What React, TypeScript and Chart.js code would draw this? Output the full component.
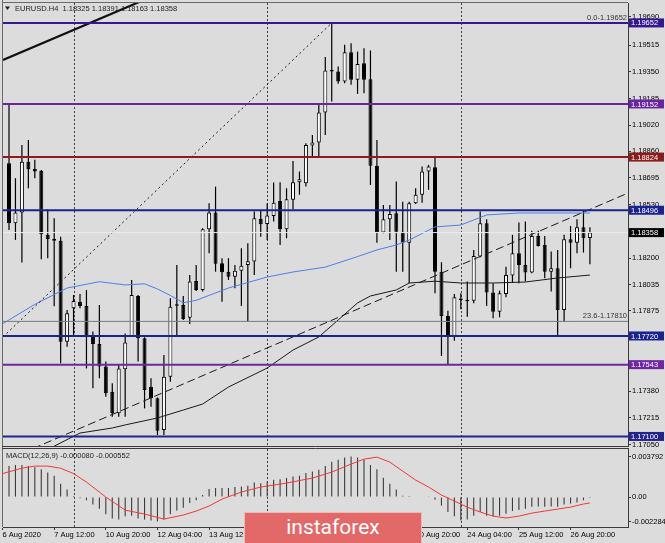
import React, { useEffect, useRef } from 'react';
import { Chart, registerables } from 'chart.js';

Chart.register(...registerables);

const FONT = "'Liberation Sans', Arial, sans-serif";
const symbolName = 'EURUSD.H4';

// ---- H4 candles, index 0 = 6 Aug 08:00 ----
const opens = [
  1.18786, 1.18416, 1.18482, 1.18796, 1.18751, 1.18739, 1.18344, 1.18319, 1.18307, 1.17685,
  1.17891, 1.17932, 1.17905, 1.17720, 1.17671, 1.17531, 1.17376, 1.17243, 1.17514, 1.17720,
  1.17967, 1.17706, 1.17407, 1.17335, 1.17140, 1.17469, 1.17906, 1.17911, 1.17833, 1.18060,
  1.18004, 1.18379, 1.18482, 1.18169, 1.18117, 1.18086, 1.18123, 1.18158, 1.18179, 1.18442,
  1.18411, 1.18461, 1.18553, 1.18379, 1.18560, 1.18669, 1.18663, 1.18895, 1.18914, 1.19099,
  1.19352, 1.19352, 1.19290, 1.19471, 1.19301, 1.19403, 1.19305, 1.18770, 1.18358, 1.18440,
  1.18477, 1.18364, 1.18296, 1.18539, 1.18591, 1.18735, 1.18762, 1.18117, 1.17843, 1.17720,
  1.17946, 1.17942, 1.17938, 1.18210, 1.18416, 1.17988, 1.17870, 1.17979, 1.18093, 1.18230,
  1.18158, 1.18111, 1.18337, 1.18282, 1.18117, 1.18138, 1.17881, 1.18317, 1.18296, 1.18391,
  1.18325,
];
const highs = [
  1.19146, 1.18694, 1.18899, 1.18930, 1.18807, 1.18745, 1.18502, 1.18446, 1.18333, 1.17880,
  1.17973, 1.17979, 1.18004, 1.17747, 1.17911, 1.17562, 1.17428, 1.17541, 1.17736, 1.18066,
  1.17973, 1.17712, 1.17459, 1.17341, 1.17603, 1.17953, 1.18158, 1.17967, 1.18097, 1.18158,
  1.18385, 1.18539, 1.18642, 1.18200, 1.18200, 1.18158, 1.18261, 1.18292, 1.18488, 1.18498,
  1.18539, 1.18667, 1.18669, 1.18632, 1.18800, 1.18735, 1.18910, 1.18961, 1.19146, 1.19441,
  1.19652, 1.19383, 1.19517, 1.19527, 1.19475, 1.19496, 1.19482, 1.18930, 1.18529, 1.18529,
  1.18673, 1.18549, 1.18549, 1.18632, 1.18766, 1.18776, 1.18827, 1.18175, 1.17876, 1.17979,
  1.17983, 1.18056, 1.18251, 1.18488, 1.18440, 1.18045, 1.18000, 1.18148, 1.18344, 1.18420,
  1.18426, 1.18370, 1.18370, 1.18337, 1.18241, 1.18251, 1.18344, 1.18399, 1.18440, 1.18494,
  1.18391,
];
const lows = [
  1.18374, 1.18313, 1.18173, 1.18632, 1.18694, 1.18193, 1.18200, 1.17904, 1.17551, 1.17654,
  1.17716, 1.17891, 1.17520, 1.17397, 1.17459, 1.17345, 1.17222, 1.17222, 1.17222, 1.17716,
  1.17562, 1.17273, 1.17284, 1.17109, 1.17109, 1.17438, 1.17726, 1.17819, 1.17794, 1.17998,
  1.17994, 1.18230, 1.18117, 1.17932, 1.18066, 1.18014, 1.17905, 1.17810, 1.18097, 1.18333,
  1.18313, 1.18426, 1.18282, 1.18323, 1.18502, 1.18591, 1.18642, 1.18823, 1.18823, 1.18961,
  1.19167, 1.19276, 1.19280, 1.19270, 1.19214, 1.19218, 1.18652, 1.18296, 1.18354, 1.18313,
  1.18117, 1.18117, 1.18045, 1.18535, 1.18543, 1.18622, 1.17983, 1.17597, 1.17541, 1.17691,
  1.17885, 1.17839, 1.17922, 1.18206, 1.17905, 1.17829, 1.17835, 1.17959, 1.18049, 1.18045,
  1.18056, 1.18107, 1.18272, 1.18076, 1.17994, 1.17720, 1.17808, 1.18138, 1.18230, 1.18235,
  1.18163,
];
const closes = [
  1.18416, 1.18482, 1.18796, 1.18749, 1.18735, 1.18348, 1.18317, 1.18307, 1.17685, 1.17860,
  1.17936, 1.17905, 1.17720, 1.17671, 1.17531, 1.17366, 1.17243, 1.17520, 1.17679, 1.17973,
  1.17706, 1.17387, 1.17335, 1.17135, 1.17469, 1.17901, 1.17912, 1.17825, 1.18056, 1.18004,
  1.18379, 1.18482, 1.18165, 1.18113, 1.18086, 1.18123, 1.18154, 1.18181, 1.18446, 1.18409,
  1.18463, 1.18543, 1.18379, 1.18564, 1.18669, 1.18687, 1.18899, 1.18914, 1.19099, 1.19358,
  1.19356, 1.19290, 1.19471, 1.19301, 1.19399, 1.19301, 1.18770, 1.18358, 1.18440, 1.18473,
  1.18364, 1.18296, 1.18539, 1.18591, 1.18735, 1.18766, 1.18117, 1.17843, 1.17720, 1.17959,
  1.17942, 1.17934, 1.18214, 1.18416, 1.17988, 1.17870, 1.17983, 1.18097, 1.18230, 1.18158,
  1.18111, 1.18337, 1.18276, 1.18117, 1.18138, 1.17881, 1.18317, 1.18296, 1.18391, 1.18323,
  1.18358,
];

// ---- time axis ----
const xMin = -0.93;
const xMax = 95.9;
const timeTickIndex = [-1, 7, 15, 23, 31, 39, 47, 55, 63, 71, 79, 87];
const timeTickLabels = [
  '6 Aug 2020', '7 Aug 12:00', '10 Aug 20:00', '12 Aug 04:00', '13 Aug 12:00', '14 Aug 20:00',
  '18 Aug 04:00', '19 Aug 12:00', '20 Aug 20:00', '24 Aug 04:00', '25 Aug 12:00', '26 Aug 20:00',
];
const weekSeparators = [10, 40, 70];

// ---- price axis ----
const priceMin = 1.17041;
const priceMax = 1.19775;
const priceTicks = [
  1.1969, 1.19515, 1.1935, 1.19185, 1.1902, 1.1886, 1.18695, 1.1853, 1.18365, 1.182,
  1.18035, 1.17875, 1.1771, 1.17545, 1.1738, 1.17215, 1.1705,
];

// ---- horizontal levels ----
const levelPrices = [1.19652, 1.19152, 1.18824, 1.18496, 1.1772, 1.17543, 1.171];
const levelColors = ['#35198c', '#6a24a0', '#8c1c1c', '#1a238f', '#1a238f', '#6f26a2', '#22238f'];
const currentPrice = 1.18358;
const fibPrices = [1.19652, 1.1781];
const fibLabels = ['0.0-1.19652', '23.6-1.17810'];

// ---- moving averages ----
const blueMaIdx = [-1, 4, 9, 14, 16, 18, 21, 23, 25, 27, 29, 34, 40, 44, 49, 54, 57, 60, 62, 66, 70, 74, 79, 84, 90];
const blueMaVal = [
  1.17795, 1.17915, 1.18016, 1.18055, 1.18045, 1.18035, 1.18042, 1.18010, 1.17970, 1.17925,
  1.1794, 1.18016, 1.18084, 1.18115, 1.18145, 1.1821, 1.18251, 1.18282, 1.18312, 1.18393,
  1.18405, 1.18467, 1.18479, 1.18479, 1.18479,
];
const blackMaIdx = [0, 7, 11, 16, 18, 23, 27, 30, 34, 40, 44, 48, 51, 54, 56, 60, 62, 66, 70, 75, 80, 85, 90];
const blackMaVal = [
  1.1690, 1.1704, 1.17121, 1.17152, 1.17171, 1.17214, 1.17263, 1.173, 1.17405, 1.17522,
  1.17633, 1.17714, 1.17819, 1.17924, 1.17967, 1.18004, 1.18047, 1.18058, 1.18047, 1.18047,
  1.18053, 1.18078, 1.18096,
];

// ---- drawn objects ----
const trendDashIdx = [2, 95.9];
const trendDashVal = [1.16996, 1.18602];
const trendThickIdx = [-0.93, 30];
const trendThickVal = [1.19423, 1.19948];
const fibLineIdx = [-0.93, 50];
const fibLineVal = [1.17714, 1.19652];

// ---- MACD(12,26,9) ----
const macdHist = [
  0.0029, 0.003, 0.003, 0.0029, 0.0028, 0.0026, 0.0023, 0.002, 0.00125, 0.0007,
  0.0001, -0.0001, -0.0003, -0.0007, -0.0011, -0.0016, -0.002, -0.0021, -0.0018, -0.00175,
  -0.002, -0.0021, -0.0022, -0.00228, -0.0021, -0.0016, -0.00125, -0.001, -0.00056, -0.0003,
  0.0002, 0.00075, 0.00085, 0.00085, 0.00085, 0.00094, 0.001, 0.00106, 0.00137, 0.0013,
  0.00147, 0.00162, 0.00168, 0.00178, 0.00193, 0.002, 0.00225, 0.0024, 0.00256, 0.0029,
  0.0033, 0.0035, 0.0037, 0.00379, 0.0037, 0.0035, 0.003, 0.0026, 0.0018, 0.00125,
  0.0007, 0.00012, 0.0001, 0.00006, 0.00005, 0.00003, -0.00025, -0.0008, -0.0014, -0.0018,
  -0.0022, -0.0021, -0.00175, -0.0014, -0.00175, -0.0018, -0.00175, -0.00156, -0.0013, -0.0012,
  -0.0011, -0.0009, -0.00088, -0.0009, -0.00088, -0.0009, -0.0007, -0.0006, -0.0005, -0.0003,
  -0.00008,
];
const macdSignalIdx = [-1, 2, 4, 6, 8, 10, 12, 13, 15, 18, 21, 24, 27, 29, 31, 33, 36, 39, 43, 47, 50, 53, 55, 57, 59, 61, 63, 65, 67, 69, 71, 73, 75, 77, 79, 81, 83, 85, 87, 89, 90];
const macdSignalVal = [
  0.0022, 0.0027, 0.0029, 0.0029, 0.0027, 0.0022, 0.0014, 0.00094, 0, -0.00122,
  -0.00159, -0.00206, -0.00168, -0.00131, -0.00084, -0.00019, 0.00047, 0.00094, 0.00131, 0.00178,
  0.00234, 0.00309, 0.00355, 0.00374, 0.00327, 0.00243, 0.00159, 0.00094, 0.00019, -0.00037,
  -0.00094, -0.0014, -0.00178, -0.00196, -0.00178, -0.0015, -0.00131, -0.00112, -0.00094, -0.00065,
  -0.000552,
];
const macdMin = -0.0028;
const macdMax = 0.0045;
const macdTicks = [-0.002284, 0, 0.003792];
const macdTickLabels = ['-0.002284', '0.00', '0.003792'];

const BG = '#dcdcdc';
const AXIS = '#3a3a3a';

function lineSet(xs: number[], ys: number[], color: string, width: number, dash: number[], order: number) {
  return {
    type: 'line',
    data: xs.map((x, k) => ({ x, y: ys[k] })),
    borderColor: color,
    borderWidth: width,
    borderDash: dash,
    pointRadius: 0,
    fill: false,
    tension: 0,
    order,
  };
}

function drawSeparators(chart: any) {
  const { ctx, chartArea, scales } = chart;
  ctx.save();
  ctx.strokeStyle = '#404040';
  ctx.lineWidth = 1;
  ctx.setLineDash([2, 2]);
  for (const v of weekSeparators) {
    const px = Math.round(scales.x.getPixelForValue(v)) + 0.5;
    ctx.beginPath();
    ctx.moveTo(px, chartArea.top);
    ctx.lineTo(px, chartArea.bottom);
    ctx.stroke();
  }
  ctx.restore();
}

const mainOverlay = {
  id: 'mainOverlay',
  beforeDraw(chart: any) {
    const { ctx, width, height } = chart;
    ctx.save();
    ctx.fillStyle = BG;
    ctx.fillRect(0, 0, width, height);
    ctx.restore();
  },
  beforeDatasetsDraw(chart: any) {
    drawSeparators(chart);
  },
  afterDraw(chart: any) {
    const { ctx, chartArea, scales } = chart;
    const ys = scales.y;
    ctx.save();
    ctx.strokeStyle = '#6a6a6a';
    ctx.lineWidth = 1;
    ctx.beginPath();
    ctx.moveTo(2.5, 0);
    ctx.lineTo(2.5, chart.height);
    ctx.moveTo(2, 2.5);
    ctx.lineTo(chartArea.right, 2.5);
    ctx.stroke();
    ctx.strokeStyle = AXIS;
    ctx.beginPath();
    ctx.moveTo(2, chartArea.bottom + 0.5);
    ctx.lineTo(chartArea.right + 1, chartArea.bottom + 0.5);
    ctx.stroke();

    ctx.font = `7.5px ${FONT}`;
    ctx.fillStyle = '#333333';
    ctx.textAlign = 'right';
    ctx.textBaseline = 'middle';
    fibPrices.forEach((p, k) => {
      const py = ys.getPixelForValue(p);
      ctx.fillText(fibLabels[k], chartArea.right - 1, py - 5);
    });
    ctx.textAlign = 'left';
    const boxX = chartArea.right + 1;
    const drawBox = (p: number, color: string) => {
      const py = ys.getPixelForValue(p);
      ctx.fillStyle = color;
      ctx.fillRect(boxX, py - 4.5, 35, 9);
      ctx.fillStyle = '#ffffff';
      ctx.fillText(p.toFixed(5), boxX + 2, py + 0.5);
    };
    levelPrices.forEach((p, k) => drawBox(p, levelColors[k]));
    drawBox(currentPrice, '#000000');

    const n = opens.length - 1;
    ctx.fillStyle = '#1a1a1a';
    ctx.beginPath();
    ctx.moveTo(5, 6.5);
    ctx.lineTo(10, 6.5);
    ctx.lineTo(7.5, 10);
    ctx.closePath();
    ctx.fill();
    ctx.fillStyle = '#1e1e1e';
    ctx.fillText(
      `${symbolName}  ${opens[n].toFixed(5)} ${highs[n].toFixed(5)} ${lows[n].toFixed(5)} ${closes[n].toFixed(5)}`,
      15,
      8.5,
    );
    ctx.restore();
  },
};

const macdOverlay = {
  id: 'macdOverlay',
  beforeDraw(chart: any) {
    const { ctx, width, height } = chart;
    ctx.save();
    ctx.fillStyle = BG;
    ctx.fillRect(0, 0, width, height);
    ctx.restore();
  },
  beforeDatasetsDraw(chart: any) {
    drawSeparators(chart);
  },
  afterDraw(chart: any) {
    const { ctx, chartArea } = chart;
    ctx.save();
    ctx.strokeStyle = '#6a6a6a';
    ctx.lineWidth = 1;
    ctx.beginPath();
    ctx.moveTo(2.5, 0);
    ctx.lineTo(2.5, chartArea.bottom);
    ctx.stroke();
    ctx.strokeStyle = AXIS;
    ctx.beginPath();
    ctx.moveTo(2, 0.5);
    ctx.lineTo(chartArea.right + 1, 0.5);
    ctx.stroke();
    ctx.font = `7.5px ${FONT}`;
    ctx.fillStyle = '#1e1e1e';
    ctx.textAlign = 'left';
    ctx.textBaseline = 'middle';
    const n = macdHist.length - 1;
    const sig = macdSignalVal[macdSignalVal.length - 1];
    ctx.fillText(`MACD(12,26,9) ${macdHist[n].toFixed(6)} ${sig.toFixed(6)}`, 6, chartArea.top + 7);
    ctx.restore();
  },
};

export default function App() {
  const mainRef = useRef<HTMLCanvasElement>(null);
  const macdRef = useRef<HTMLCanvasElement>(null);

  useEffect(() => {
    const idx = opens.map((_, i) => i);
    const wicks = idx.map((i) => ({ x: i, y: [lows[i], highs[i]] }));
    const bodies = idx.map((i) => ({ x: i, y: [Math.min(opens[i], closes[i]), Math.max(opens[i], closes[i])] }));
    const bodyFill = idx.map((i) => (closes[i] >= opens[i] ? '#ffffff' : '#000000'));

    const levelSets = levelPrices.map((p, k) => lineSet([xMin - 2, xMax + 2], [p, p], levelColors[k], 2, [], 0));
    const fibSets = fibPrices.map((p) => lineSet([xMin - 2, xMax + 2], [p, p], '#7a7a7a', 1, [], 2));

    const tickFont = { family: FONT, size: 7.5, lineHeight: 1 };

    const main = new Chart(mainRef.current as HTMLCanvasElement, {
      type: 'bar',
      data: {
        datasets: [
          ...levelSets,
          lineSet([xMin - 2, xMax + 2], [currentPrice, currentPrice], '#ececf6', 1, [], 1),
          ...fibSets,
          lineSet(fibLineIdx, fibLineVal, '#1a1a1a', 1, [2, 3], 2),
          lineSet(trendDashIdx, trendDashVal, '#1a1a1a', 1, [8, 4], 2),
          lineSet(trendThickIdx, trendThickVal, '#111111', 2.2, [], 2),
          lineSet(blueMaIdx, blueMaVal, '#4f7fe8', 1, [], 3),
          lineSet(blackMaIdx, blackMaVal, '#1a1a1a', 1, [], 3),
          {
            type: 'bar',
            data: bodies,
            backgroundColor: bodyFill,
            borderColor: '#000000',
            borderWidth: 1,
            borderSkipped: false,
            barThickness: 4,
            minBarLength: 1.5,
            grouped: false,
            inflateAmount: 0,
            order: 4,
          },
          {
            type: 'bar',
            data: wicks,
            backgroundColor: '#000000',
            borderWidth: 0,
            barThickness: 1.2,
            grouped: false,
            inflateAmount: 0,
            order: 5,
          },
        ] as any,
      },
      options: {
        animation: false,
        responsive: false,
        events: [],
        layout: { padding: { left: 3, top: 3, right: 0, bottom: 2 } },
        plugins: { legend: { display: false }, tooltip: { enabled: false } },
        scales: {
          x: { type: 'linear', display: false, min: xMin, max: xMax, offset: false, grid: { offset: false } },
          y: {
            type: 'linear',
            position: 'right',
            min: priceMin,
            max: priceMax,
            beginAtZero: false,
            afterBuildTicks: (s: any) => {
              s.ticks = priceTicks.map((v) => ({ value: v }));
            },
            afterFit: (s: any) => {
              s.width = 37;
              s.paddingTop = 0;
              s.paddingBottom = 0;
            },
            ticks: {
              callback: (v: any) => Number(v).toFixed(5),
              font: tickFont,
              color: '#000000',
              padding: 1,
              autoSkip: false,
            },
            grid: { drawOnChartArea: false, drawTicks: true, tickLength: 3, color: AXIS },
            border: { display: true, color: AXIS },
          },
        },
      } as any,
      plugins: [mainOverlay],
    });

    const macd = new Chart(macdRef.current as HTMLCanvasElement, {
      type: 'bar',
      data: {
        datasets: [
          lineSet(macdSignalIdx, macdSignalVal, '#f03a32', 1, [], 0),
          {
            type: 'bar',
            data: idx.map((i) => ({ x: i, y: macdHist[i] })),
            backgroundColor: '#3c3c3c',
            borderWidth: 0,
            barThickness: 1.1,
            grouped: false,
            inflateAmount: 0,
            order: 1,
          },
        ] as any,
      },
      options: {
        animation: false,
        responsive: false,
        events: [],
        layout: { padding: { left: 3, top: 1, right: 0, bottom: 0 } },
        plugins: { legend: { display: false }, tooltip: { enabled: false } },
        scales: {
          x: {
            type: 'linear',
            position: 'bottom',
            min: xMin,
            max: xMax,
            offset: false,
            afterBuildTicks: (s: any) => {
              s.ticks = timeTickIndex.map((v) => ({ value: v }));
            },
            afterFit: (s: any) => {
              s.height = 16;
              s.paddingLeft = 0;
              s.paddingRight = 0;
            },
            ticks: {
              callback: (_v: any, i: number) => timeTickLabels[i],
              align: 'start',
              maxRotation: 0,
              minRotation: 0,
              autoSkip: false,
              font: tickFont,
              color: '#000000',
              padding: 1,
            },
            grid: { drawOnChartArea: false, drawTicks: true, tickLength: 3, color: AXIS, offset: false },
            border: { display: true, color: AXIS },
          },
          y: {
            type: 'linear',
            position: 'right',
            min: macdMin,
            max: macdMax,
            beginAtZero: false,
            afterBuildTicks: (s: any) => {
              s.ticks = macdTicks.map((v) => ({ value: v }));
            },
            afterFit: (s: any) => {
              s.width = 37;
              s.paddingTop = 0;
              s.paddingBottom = 0;
            },
            ticks: {
              callback: (_v: any, i: number) => macdTickLabels[i],
              font: tickFont,
              color: '#000000',
              padding: 1,
              autoSkip: false,
            },
            grid: { drawOnChartArea: false, drawTicks: true, tickLength: 3, color: AXIS },
            border: { display: true, color: AXIS },
          },
        },
      } as any,
      plugins: [macdOverlay],
    });

    return () => {
      main.destroy();
      macd.destroy();
    };
  }, []);

  return (
    <div style={{ position: 'fixed', left: 0, top: 0, width: 665, height: 543, background: BG, overflow: 'hidden' }}>
      <canvas ref={mainRef} width={665} height={448} style={{ position: 'absolute', left: 0, top: 0 }} />
      <canvas ref={macdRef} width={665} height={95} style={{ position: 'absolute', left: 0, top: 448 }} />
      <div
        style={{
          position: 'absolute',
          left: 244,
          top: 512,
          width: 178,
          height: 32,
          background: '#e36868',
          border: '1px solid #f2b8b8',
          boxSizing: 'border-box',
          color: '#ffffff',
          fontFamily: "Roboto, 'Open Sans', sans-serif",
          fontSize: 21,
          display: 'flex',
          alignItems: 'center',
          justifyContent: 'center',
          paddingBottom: 2,
        }}
      >
        instaforex
      </div>
    </div>
  );
}
